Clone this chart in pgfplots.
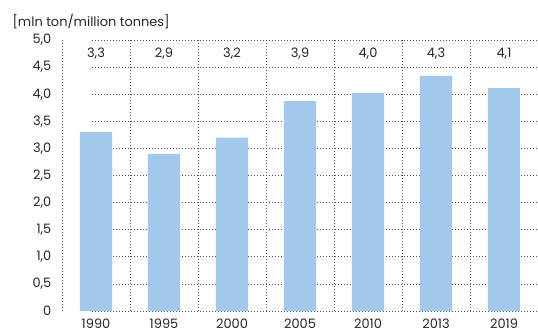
\documentclass[border=0pt]{standalone}
\usepackage{pgfplots}
\pgfplotsset{compat=1.18}
\usepackage{fontspec}
\setmainfont{Poppins}
\definecolor{barblue}{HTML}{A2C9EB}
\definecolor{gridc}{HTML}{555555}
\begin{document}
\begin{tikzpicture}[x=1bp,y=1bp]
\begin{axis}[
  at={(0,0)}, anchor=south west,
  scale only axis, width=476bp, height=271bp,
  xmin=-0.5, xmax=6.5, ymin=0, ymax=5,
  axis lines=left,
  axis line style={draw=none},
  tick style={draw=none},
  clip=false,
  ytick={0,0.5,...,5},
  yticklabels={0,{0,5},{1,0},{1,5},{2,0},{2,5},{3,0},{3,5},{4,0},{4,5},{5,0}},
  xtick={0,...,6},
  xticklabels={1990,1995,2000,2005,2010,2013,2019},
  every tick label/.append style={font=\fontsize{13}{15}\selectfont, text=black!85},
  yticklabel style={xshift=-5bp},
  xticklabel style={yshift=-2.5bp},
  /pgf/number format/assume math mode=true,
]
% grid lines
\pgfplotsinvokeforeach{0,0.5,1,1.5,2,2.5,3,3.5,4,4.5,5}{
  \draw[gridc, line width=0.7bp, dash pattern=on 0.8bp off 2.2bp] (axis cs:-0.5,#1) ++(-4bp,0) -- (axis cs:6.5,#1);
}
\pgfplotsinvokeforeach{-0.5,0.5,1.5,2.5,3.5,4.5,5.5}{
  \draw[gridc, line width=0.7bp, dash pattern=on 0.8bp off 2.2bp] (axis cs:#1,0) -- (axis cs:#1,5);
}
\addplot[ybar, bar width=32bp, fill=barblue, draw=none, bar shift=0pt] coordinates {
  (0,3.3) (1,2.9) (2,3.2) (3,3.87) (4,4.02) (5,4.34) (6,4.11)
};
\addplot[only marks, mark=none, nodes near coords, point meta=explicit symbolic,
  every node near coord/.style={anchor=center, font=\fontsize{13}{15}\selectfont, text=black!85}] coordinates {
  (0,4.75) [3,3] (1,4.75) [2,9] (2,4.75) [3,2] (3,4.75) [3,9] (4,4.75) [4,0] (5,4.75) [4,3] (6,4.75) [4,1]
};
\end{axis}
\node[anchor=west, font=\fontsize{13}{15}\selectfont, text=black!85] at (-53bp,289bp) {[mln ton/million tonnes]};
\pgfresetboundingbox
\path (-62bp,-22bp) rectangle (476bp,311bp);
\end{tikzpicture}
\end{document}
